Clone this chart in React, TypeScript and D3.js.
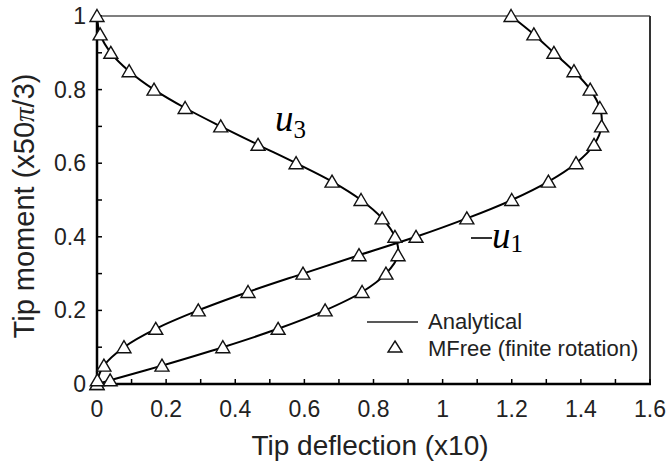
import React from "react";
import * as d3 from "d3";

const moments = [0, 0.01, 0.05, 0.1, 0.15, 0.2, 0.25, 0.3, 0.35, 0.4, 0.45, 0.5, 0.55, 0.6, 0.65, 0.7, 0.75, 0.8, 0.85, 0.9, 0.95, 1.0];
const u3Values = [0, 0.038, 0.188, 0.364, 0.524, 0.66, 0.767, 0.836, 0.871, 0.862, 0.825, 0.764, 0.68, 0.576, 0.466, 0.358, 0.255, 0.165, 0.093, 0.04, 0.009, 0];
const negU1Values = [0, 0.001, 0.02, 0.078, 0.17, 0.293, 0.437, 0.596, 0.758, 0.923, 1.07, 1.2, 1.306, 1.386, 1.438, 1.46, 1.455, 1.427, 1.38, 1.322, 1.264, 1.198];
const xTickLabels = [0, 0.2, 0.4, 0.6, 0.8, 1, 1.2, 1.4, 1.6];
const yTickLabels = [0, 0.2, 0.4, 0.6, 0.8, 1];
const minorTicks = [0, 0.1, 0.2, 0.3, 0.4, 0.5, 0.6, 0.7, 0.8, 0.9, 1.0, 1.1, 1.2, 1.3, 1.4, 1.5, 1.6];
const legendLabels = ["Analytical", "MFree (finite rotation)"];

const W = 668, H = 461;
const L = 97, R = 650, T = 16, B = 384;

export default function App() {
  const x = d3.scaleLinear().domain([0, 1.6]).range([L, R]);
  const y = d3.scaleLinear().domain([0, 1]).range([B, T]);
  const line = d3
    .line<[number, number]>()
    .x((d) => x(d[0]))
    .y((d) => y(d[1]))
    .curve(d3.curveCatmullRom.alpha(0.5));
  const series = [u3Values, negU1Values].map((vals) => vals.map((v, i) => [v, moments[i]] as [number, number]));
  const tri = (cx: number, cy: number) =>
    `M${cx},${cy - 6.5}L${cx + 7},${cy + 5.5}L${cx - 7},${cy + 5.5}Z`;
  const sans = "'Liberation Sans', Arial, Helvetica, sans-serif";
  const serif = "'Liberation Serif', 'Times New Roman', serif";
  const fmt = (v: number) => String(v);
  return (
    <svg width={W} height={H} style={{ position: "absolute", left: 0, top: 0, background: "#fff" }} fontFamily={sans}>
      <rect x={0} y={0} width={W} height={H} fill="#fff" />
      {/* frame */}
      <line x1={L} x2={R} y1={T} y2={T} stroke="#555" strokeWidth={1.5} />
      <line x1={R} x2={R} y1={T} y2={B} stroke="#333" strokeWidth={2} />
      {/* ticks */}
      {minorTicks.map((t) => (
        <line key={"xt" + t} x1={x(t)} x2={x(t)} y1={B} y2={B - 5} stroke="#000" strokeWidth={1.5} />
      ))}
      {minorTicks.filter((t) => t <= 1).map((t) => (
        <line key={"yt" + t} x1={L} x2={L + 5} y1={y(t)} y2={y(t)} stroke="#000" strokeWidth={1.5} />
      ))}
      <line x1={L} x2={R + 1} y1={B} y2={B} stroke="#000" strokeWidth={2.5} />
      <line x1={L} x2={L} y1={T - 1} y2={B + 1} stroke="#000" strokeWidth={2.5} />
      {xTickLabels.map((t) => (
        <text key={"xl" + t} x={x(t)} y={417} textAnchor="middle" fontSize={23} fill="#222">
          {fmt(t)}
        </text>
      ))}
      {yTickLabels.map((t) => (
        <text key={"yl" + t} x={86} y={y(t) + 8} textAnchor="end" fontSize={23} fill="#222">
          {fmt(t)}
        </text>
      ))}
      {/* curves */}
      {series.map((s, i) => (
        <path key={"ln" + i} d={line(s) || ""} fill="none" stroke="#000" strokeWidth={2} />
      ))}
      {series.map((s, i) =>
        s.map((d, j) => (
          <path key={"mk" + i + "-" + j} d={tri(x(d[0]), y(d[1]))} fill="#fff" stroke="#111" strokeWidth={1.4} strokeLinejoin="miter" />
        ))
      )}
      {/* curve labels */}
      <text x={275} y={131} fontFamily={serif} fontSize={37} fontStyle="italic" fill="#000">
        u<tspan fontStyle="normal" fontSize={25} dy={7}>3</tspan>
      </text>
      <line x1={471} x2={492} y1={238} y2={238} stroke="#000" strokeWidth={1.6} />
      <text x={492} y={248} fontFamily={serif} fontSize={37} fill="#000">
        <tspan fontStyle="italic">u</tspan><tspan fontSize={25} dy={4}>1</tspan>
      </text>
      {/* legend */}
      <line x1={367} x2={418} y1={322} y2={322} stroke="#222" strokeWidth={1.5} />
      <text x={428} y={329} fontSize={22} fill="#222">{legendLabels[0]}</text>
      <path d={`M395,341L402,352L388,352Z`} fill="#fff" stroke="#111" strokeWidth={1.4} />
      <text x={428} y={356} fontSize={22} fill="#222">{legendLabels[1]}</text>
      {/* axis titles */}
      <text x={370} y={455} textAnchor="middle" fontSize={28} fill="#222">
        Tip deflection (x10)
      </text>
      <text transform="translate(34,206) rotate(-90)" textAnchor="middle" fontSize={29} fill="#222">
        Tip moment (x50<tspan fontFamily={serif} fontStyle="italic">π</tspan>/3)
      </text>
    </svg>
  );
}
